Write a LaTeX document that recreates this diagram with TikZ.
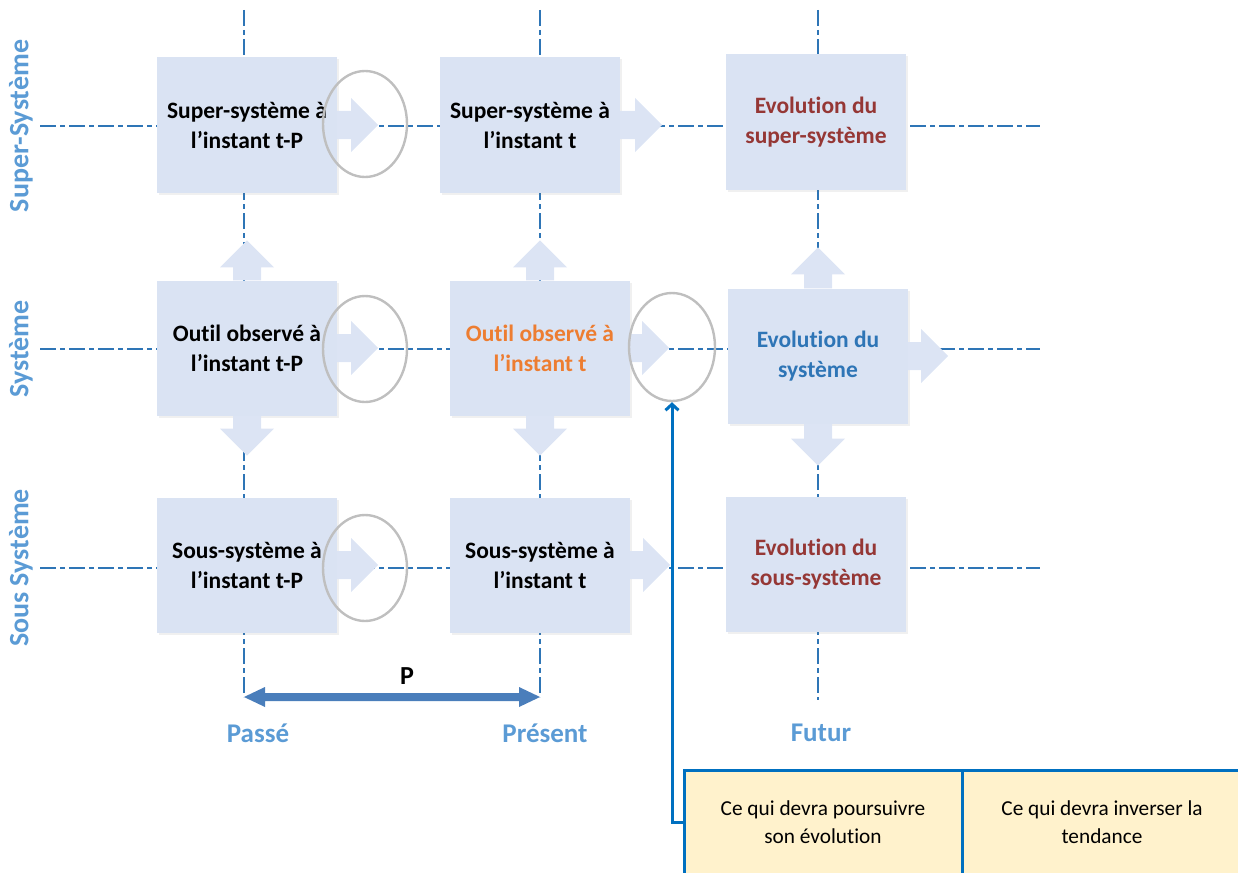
\documentclass[tikz,border=0pt]{standalone}
\usepackage{fontspec}
\setmainfont{Carlito}[Ligatures=NoCommon]
\usetikzlibrary{shapes.geometric,arrows.meta,shadows}

\definecolor{boxfill}{HTML}{DAE3F3}
\definecolor{arrowfill}{HTML}{DCE4F4}
\definecolor{gridblue}{HTML}{2E75B6}
\definecolor{ringgray}{HTML}{BFBFBF}
\definecolor{labelblue}{HTML}{5B9BD5}
\definecolor{darkred}{HTML}{953735}
\definecolor{orangetxt}{HTML}{ED7D31}
\definecolor{bluetxt}{HTML}{2E75B6}
\definecolor{legfill}{HTML}{FFF2CC}
\definecolor{legline}{HTML}{0070C0}
\definecolor{steel}{HTML}{4A7EBB}

% wide block arrow starting at #1, pointing at angle #2, of length #3
\newcommand\blockarr[3]{%
  \fill[arrowfill, shift={(#1)}, rotate=#2]
    (0,-14) -- ({#3-27},-14) -- ({#3-27},-27) -- (#3,0) --
    ({#3-27},27) -- ({#3-27},14) -- (0,14) -- cycle;}

\begin{document}
\begin{tikzpicture}[x=1pt, y=-1pt,
  gridline/.style={draw=gridblue, line width=2.4pt,
    dash pattern=on 16pt off 4pt on 5pt off 4pt},
  box/.style={rectangle, fill=boxfill, minimum width=180pt,
    minimum height=135pt, inner sep=0pt, align=center,
    font=\fontsize{23.5}{30}\selectfont\bfseries,
    drop shadow={opacity=0.12, shadow xshift=1.5pt, shadow yshift=-2pt}},
  ring/.style={ellipse, draw=ringgray, line width=2.4pt, inner sep=0pt},
  rowlabel/.style={rotate=90, text=labelblue,
    font=\fontsize{28}{32}\selectfont\bfseries},
  collabel/.style={text=labelblue, font=\fontsize{27}{30}\selectfont\bfseries},
  legbox/.style={rectangle, draw=legline, line width=3pt, fill=legfill,
    minimum height=104pt, align=center, inner sep=0pt,
    font=\fontsize{21.3}{28}\selectfont},
  linkline/.style={draw=legline, line width=3pt}
]
\useasboundingbox (0,0) rectangle (1238,872);

% grid lines (rows and columns)
\coordinate (r1a) at (40,126);  \coordinate (r1b) at (1040,126);
\coordinate (r2a) at (40,349);  \coordinate (r2b) at (1040,349);
\coordinate (r3a) at (40,568);  \coordinate (r3b) at (1040,568);
\coordinate (c1a) at (244,10);  \coordinate (c1b) at (244,697);
\coordinate (c2a) at (540,10);  \coordinate (c2b) at (540,697);
\coordinate (c3a) at (818,10);  \coordinate (c3b) at (818,700);
\draw[gridline] (r1a) -- (r1b);
\draw[gridline] (r2a) -- (r2b);
\draw[gridline] (r3a) -- (r3b);
\draw[gridline] (c1a) -- (c1b);
\draw[gridline] (c2a) -- (c2b);
\draw[gridline] (c3a) -- (c3b);

% boxes
\node[box] (b11) at (247,125) {Super-système à\\l’instant t-P};
\node[box] (b12) at (530,125) {Super-système à\\l’instant t};
\node[box, text=darkred] (b13) at (816,122) {Evolution du\\super-système};
\node[box] (b21) at (247,348) {Outil observé à\\l’instant t-P};
\node[box, text=orangetxt] (b22) at (540,348) {Outil observé à\\l’instant t};
\node[box, text=bluetxt] (b23) at (818,356) {Evolution du\\système};
\node[box] (b31) at (247,565) {Sous-système à\\l’instant t-P};
\node[box] (b32) at (540,565) {Sous-système à\\l’instant t};
\node[box, text=darkred] (b33) at (816,564) {Evolution du\\sous-système};

% block arrows
\blockarr{b11.east}{0}{41}
\blockarr{b12.east}{0}{42}
\blockarr{b21.east}{0}{41}
\blockarr{b22.east}{0}{39}
\blockarr{b23.east}{0}{40}
\blockarr{b31.east}{0}{41}
\blockarr{b32.east}{0}{40}
\blockarr{b21.north}{90}{40}
\blockarr{b22.north}{90}{40}
\blockarr{b23.north}{90}{41}
\blockarr{b21.south}{-90}{40}
\blockarr{b22.south}{-90}{40}
\blockarr{b23.south}{-90}{42}

% rings
\node[ring, minimum width=84pt, minimum height=106pt] (e11) at (365,124) {};
\node[ring, minimum width=84pt, minimum height=106pt] (e21) at (365,349) {};
\node[ring, minimum width=84pt, minimum height=106pt] (e31) at (365,568) {};
\node[ring, minimum width=86pt, minimum height=108pt] (e22) at (672,347) {};

% period arrow
\fill[steel, shift={(c1b)}]
  (0,0) -- (21,-10) -- (21,-4) -- (275,-4) -- (275,-10) -- (296,0) --
  (275,10) -- (275,4) -- (21,4) -- (21,10) -- cycle;
\node[font=\fontsize{26}{30}\selectfont\bfseries] (plab) at (407,676) {P};

% row and column labels
\node[rowlabel] (rl1) at (21,126) {Super-Système};
\node[rowlabel] (rl2) at (21,349) {Système};
\node[rowlabel] (rl3) at (21,568) {Sous Système};
\node[collabel] (cl1) at (258,733) {Passé};
\node[collabel] (cl2) at (545,733) {Présent};
\node[collabel] (cl3) at (821,733) {Futur};

% legend
\node[legbox, minimum width=278pt] (leg1) at (823,822)
  {Ce qui devra poursuivre\\son évolution};
\node[legbox, minimum width=280pt] (leg2) at (1102,822)
  {Ce qui devra inverser la\\tendance};
\draw[linkline, -{Straight Barb[length=6pt,width=13pt]}]
  (leg1.west) -| (e22.south);
\end{tikzpicture}
\end{document}
